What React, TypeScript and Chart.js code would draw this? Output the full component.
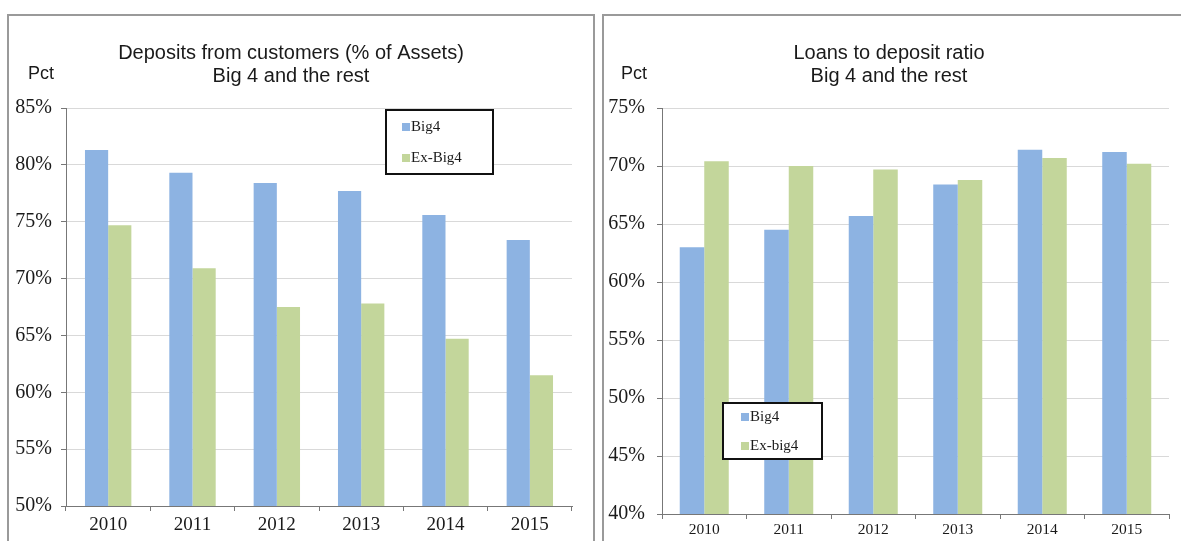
import React, { useEffect, useRef } from "react";
import { Chart, registerables } from "chart.js";

Chart.register(...registerables);

const categories = ["2010", "2011", "2012", "2013", "2014", "2015"];
const depositsBig4 = [81.3, 79.3, 78.4, 77.7, 75.6, 73.4];
const depositsExBig4 = [74.7, 70.9, 67.5, 67.8, 64.7, 61.5];
const loansBig4 = [63.0, 64.5, 65.7, 68.4, 71.4, 71.2];
const loansExBig4 = [70.4, 70.0, 69.7, 68.8, 70.7, 70.2];

const BLUE = "#8db3e2";
const GREEN = "#c3d69b";
const SERIF = "'Liberation Serif', 'Times New Roman', serif";
const SANS = "'Liberation Sans', Arial, sans-serif";

type PanelCfg = {
  title: string[];
  titleX: number;
  big4: number[];
  ex: number[];
  exLabel: string;
  min: number;
  max: number;
  width: number;
  padRight: number;
  yWidth: number;
  xHeight: number;
  catPct: number;
  xFont: number;
  xPad: number;
  yPad: number;
  pctX: number;
  legend: { x: number; y: number; w: number; h: number; rows: number[]; sq: number; tx: number };
};

const overlayPlugin = {
  id: "overlay",
  afterDraw(chart: any, _args: any, opts: any) {
    const ctx = chart.ctx;
    ctx.save();
    // titles
    ctx.fillStyle = "#1a1a1a";
    ctx.font = `20px ${SANS}`;
    ctx.textAlign = "center";
    ctx.textBaseline = "middle";
    opts.title.forEach((t: string, i: number) => ctx.fillText(t, opts.titleX, 53 + i * 23));
    ctx.font = `18px ${SANS}`;
    ctx.fillText("Pct", opts.pctX, 74);
    // legend
    const L = opts.legend;
    ctx.fillStyle = "#fff";
    ctx.fillRect(L.x, L.y, L.w, L.h);
    ctx.strokeStyle = "#111";
    ctx.lineWidth = 2;
    ctx.strokeRect(L.x, L.y, L.w, L.h);
    ctx.textAlign = "left";
    ctx.font = `15px ${SERIF}`;
    chart.data.datasets.forEach((ds: any, i: number) => {
      const y = L.rows[i];
      ctx.fillStyle = ds.backgroundColor;
      ctx.fillRect(L.sq, y - 4, 8, 8);
      ctx.fillStyle = "#1a1a1a";
      ctx.fillText(ds.label, L.tx, y);
    });
    ctx.restore();
  },
};

function Panel({ cfg }: { cfg: PanelCfg }) {
  const ref = useRef<HTMLCanvasElement | null>(null);
  useEffect(() => {
    if (!ref.current) return;
    const chart = new Chart(ref.current, {
      type: "bar",
      data: {
        labels: categories,
        datasets: [
          { label: "Big4", data: cfg.big4, backgroundColor: BLUE, categoryPercentage: cfg.catPct, barPercentage: 1 },
          { label: cfg.exLabel, data: cfg.ex, backgroundColor: GREEN, categoryPercentage: cfg.catPct, barPercentage: 1 },
        ],
      },
      options: {
        animation: false,
        responsive: false,
        devicePixelRatio: 1,
        layout: { padding: { left: 0, right: cfg.padRight, top: 108, bottom: 0 } },
        plugins: {
          legend: { display: false },
          tooltip: { enabled: false },
          title: { display: false },
          overlay: cfg as any,
        } as any,
        scales: {
          x: {
            grid: { display: true, drawOnChartArea: false, tickLength: 5, tickColor: "#777", offset: true },
            border: { display: true, color: "#777", width: 1 },
            ticks: { color: "#1a1a1a", font: { family: SERIF, size: cfg.xFont }, padding: cfg.xPad, maxRotation: 0 },
            afterFit: (s: any) => { s.height = cfg.xHeight; },
          },
          y: {
            min: cfg.min,
            max: cfg.max,
            ticks: { stepSize: 5, color: "#1a1a1a", font: { family: SERIF, size: 20 }, padding: cfg.yPad, callback: (v: any) => `${v}%` },
            grid: { color: "#d9d9d9", tickLength: 5, tickColor: "#777", lineWidth: 1 },
            border: { display: true, color: "#777", width: 1 },
            afterFit: (s: any) => { s.width = cfg.yWidth; },
          },
        },
      },
      plugins: [overlayPlugin],
    });
    return () => chart.destroy();
  }, [cfg]);
  return <canvas ref={ref} width={cfg.width} height={541} style={{ display: "block" }} />;
}

const leftCfg: PanelCfg = {
  title: ["Deposits from customers (% of Assets)", "Big 4 and the rest"],
  titleX: 291,
  big4: depositsBig4,
  ex: depositsExBig4,
  exLabel: "Ex-Big4",
  min: 50,
  max: 85,
  width: 597,
  padRight: 25,
  yWidth: 66,
  xHeight: 35,
  catPct: 0.55,
  xFont: 19,
  xPad: 3,
  yPad: 9,
  pctX: 41,
  legend: { x: 386, y: 110, w: 107, h: 64, rows: [127, 158], sq: 402, tx: 411 },
};

const rightCfg: PanelCfg = {
  title: ["Loans to deposit ratio", "Big 4 and the rest"],
  titleX: 292,
  big4: loansBig4,
  ex: loansExBig4,
  exLabel: "Ex-big4",
  min: 40,
  max: 75,
  width: 584,
  padRight: 12,
  yWidth: 65,
  xHeight: 27,
  catPct: 0.58,
  xFont: 15.5,
  xPad: 2,
  yPad: 12,
  pctX: 37,
  legend: { x: 126, y: 403, w: 99, h: 56, rows: [417, 446], sq: 144, tx: 153 },
};

export default function App() {
  return (
    <div style={{ position: "fixed", left: 0, top: 0, width: 1181, height: 541, overflow: "hidden", background: "#fff" }}>
      <div style={{ position: "absolute", left: 0, top: 0 }}>
        <Panel cfg={leftCfg} />
      </div>
      <div style={{ position: "absolute", left: 597, top: 0 }}>
        <Panel cfg={rightCfg} />
      </div>
      <div style={{ position: "absolute", left: 7, top: 14, width: 584, height: 600, border: "2px solid #9a9a9a", pointerEvents: "none" }} />
      <div style={{ position: "absolute", left: 602, top: 14, width: 640, height: 600, border: "2px solid #9a9a9a", pointerEvents: "none" }} />
    </div>
  );
}
